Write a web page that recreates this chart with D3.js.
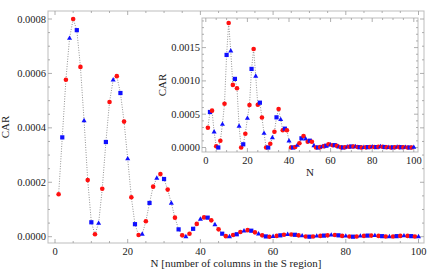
<!DOCTYPE html>
<html>
<head>
<meta charset="utf-8">
<script src="https://cdn.jsdelivr.net/npm/d3@7"></script>
<style>
  body { margin: 0; background: #fff; }
  svg text { font-family: "Liberation Serif", "Times New Roman", serif; fill: #222; }
</style>
</head>
<body>
<div id="chart"></div>
<script>
// CAR vs N, main plot and inset

// main plot values, N = 1..100
var mainCar = [
  0.000156, 0.000365, 0.000577, 0.000729, 0.000800, 0.000759, 0.000624, 0.000426, 0.000208, 0.000053,
  0.000009, 0.000049, 0.000176, 0.000348, 0.000495, 0.000576, 0.000590, 0.000528, 0.000423, 0.000286,
  0.000145, 0.000046, 0.000006, 0.000009, 0.000057, 0.000124, 0.000184, 0.000215, 0.000230, 0.000212,
  0.000173, 0.000123, 0.000070, 0.000027, 0.000005, 0.000000, 0.000011, 0.000029, 0.000047, 0.000064,
  0.000071, 0.000070, 0.000060, 0.000044, 0.000027, 0.000011, 0.000002, 0.000000, 0.000006, 0.000009,
  0.000017, 0.000021, 0.000024, 0.000022, 0.000016, 0.000010, 0.000005, 0.000001, 0.000000, 0.000001,
  0.000003, 0.000005, 0.000007, 0.000008, 0.000008, 0.000007, 0.000005, 0.000003, 0.000001, 0.000000,
  0.000001, 0.000002, 0.000003, 0.000004, 0.000005, 0.000006, 0.000006, 0.000005, 0.000003, 0.000002,
  0.000001, 0.000000, 0.000001, 0.000002, 0.000003, 0.000004, 0.000004, 0.000004, 0.000003, 0.000002,
  0.000001, 0.000000, 0.000001, 0.000002, 0.000003, 0.000003, 0.000003, 0.000002, 0.000001, 0.000000
];

// inset values, N = 1..100
var insetCar = [
  0.000297, 0.000533, 0.000553, 0.000233, 0.000018, 0.000000, 0.000102, 0.000348, 0.000658, 0.001390,
  0.001870, 0.001450, 0.000940, 0.001030, 0.000890, 0.000320, 0.000000, 0.000048, 0.000207, 0.000438,
  0.000638, 0.001180, 0.001480, 0.001070, 0.000643, 0.000673, 0.000450, 0.000213, 0.000000, 0.000000,
  0.000057, 0.000147, 0.000237, 0.000453, 0.000578, 0.000418, 0.000258, 0.000283, 0.000258, 0.000098,
  0.000000, 0.000000, 0.000008, 0.000033, 0.000063, 0.000138, 0.000173, 0.000128, 0.000087, 0.000102,
  0.000087, 0.000027, 0.000000, 0.000000, 0.000005, 0.000012, 0.000020, 0.000027, 0.000048, 0.000038,
  0.000033, 0.000035, 0.000025, 0.000008, 0.000002, 0.000000, 0.000003, 0.000008, 0.000012, 0.000015,
  0.000014, 0.000012, 0.000008, 0.000004, 0.000001, 0.000000, 0.000002, 0.000005, 0.000008, 0.000009,
  0.000008, 0.000006, 0.000010, 0.000012, 0.000011, 0.000007, 0.000003, 0.000001, 0.000000, 0.000002,
  0.000004, 0.000005, 0.000005, 0.000004, 0.000003, 0.000002, 0.000001, 0.000000, 0.000001, 0.000002
];

var xTicks = [0, 20, 40, 60, 80, 100];
var mainYTicks = [0, 0.0002, 0.0004, 0.0006, 0.0008];
var insetYTicks = [0, 0.0005, 0.0010, 0.0015];

var xTitle = "N [number of columns in the S region]";
var insetXTitle = "N";
var yTitle = "CAR";

const width = 436;
const height = 274;

var svg = d3.select("#chart")
    .append("svg")
    .attr("width", width)
    .attr("height", height)

// red for odd N, blue squares / triangles for even N
function markerFor(n) {
    if (n % 2 === 1) return "circle";
    return (n % 4 === 2) ? "square" : "triangle";
}

function drawPanel(g, values, box, opts) {
    // box: frame edges, opts: scale ranges
    var x = d3.scaleLinear().domain([0, 100]).range(opts.xRange);
    var y = d3.scaleLinear().domain(opts.yDomain).range(opts.yRange);

    var pts = values.map(function(v, i) { return {n: i + 1, v: v}; });

    // frame
    g.append("rect")
        .attr("x", box.left).attr("y", box.top)
        .attr("width", box.right - box.left).attr("height", box.bottom - box.top)
        .attr("fill", opts.fill || "none")
        .attr("stroke", "#bdbdbd").attr("stroke-width", 1);

    // minor and major ticks on all four sides, pointing in
    var xMinor = d3.range(0, 100.1, 5);
    var yMinor = d3.range(opts.yDomain[0], opts.yMinorMax, opts.yMinorStep);
    var tk = g.append("g").attr("stroke", "#9a9a9a").attr("stroke-width", 0.8);
    xMinor.forEach(function(t) {
        var len = (t % 20 === 0) ? 4 : 2;
        tk.append("line").attr("x1", x(t)).attr("x2", x(t)).attr("y1", box.bottom).attr("y2", box.bottom - len);
        tk.append("line").attr("x1", x(t)).attr("x2", x(t)).attr("y1", box.top).attr("y2", box.top + len);
    });
    yMinor.forEach(function(t) {
        var major = opts.yTicks.some(function(m) { return Math.abs(m - t) < 1e-9; });
        var len = major ? 4 : 2;
        tk.append("line").attr("y1", y(t)).attr("y2", y(t)).attr("x1", box.left).attr("x2", box.left + len);
        tk.append("line").attr("y1", y(t)).attr("y2", y(t)).attr("x1", box.right).attr("x2", box.right - len);
    });

    // tick labels
    g.selectAll(".xl").data(xTicks).enter().append("text")
        .attr("x", function(d) { return x(d); })
        .attr("y", box.bottom + 12)
        .attr("text-anchor", "middle")
        .attr("font-size", "10.5px")
        .text(function(d) { return d; });

    g.selectAll(".yl").data(opts.yTicks).enter().append("text")
        .attr("x", box.left - 2)
        .attr("y", function(d) { return y(d) + 3.5; })
        .attr("text-anchor", "end")
        .attr("font-size", "10.5px")
        .text(function(d) { return d3.format(".4f")(d); });

    // dotted joining line
    var line = d3.line()
        .x(function(d) { return x(d.n); })
        .y(function(d) { return y(d.v); });
    g.append("path")
        .datum(pts)
        .attr("d", line)
        .attr("fill", "none")
        .attr("stroke", "#7a7a7a")
        .attr("stroke-width", 0.9)
        .attr("stroke-dasharray", "0.9 1.6");

    // markers
    var mk = g.append("g");
    pts.forEach(function(d) {
        var cx = x(d.n), cy = y(d.v), m = markerFor(d.n);
        if (m === "circle") {
            mk.append("circle").attr("cx", cx).attr("cy", cy).attr("r", 2.3).attr("fill", "#ff1010");
        } else if (m === "square") {
            mk.append("rect").attr("x", cx - 2.1).attr("y", cy - 2.1).attr("width", 4.2).attr("height", 4.2).attr("fill", "#1010ff");
        } else {
            mk.append("path")
                .attr("d", d3.symbol().type(d3.symbolTriangle).size(11)())
                .attr("transform", "translate(" + cx + "," + cy + ")")
                .attr("fill", "#1010ff");
        }
    });

    return {x: x, y: y};
}

// main plot
var mainG = svg.append("g");
drawPanel(mainG, mainCar,
    {left: 48, right: 424, top: 11, bottom: 243},
    {xRange: [55, 418.5], yDomain: [0, 0.0008], yRange: [236.7, 19],
     yTicks: mainYTicks, yMinorStep: 0.00005, yMinorMax: 0.00083});

mainG.append("text")
    .attr("x", 236).attr("y", 267)
    .attr("text-anchor", "middle")
    .attr("font-size", "11px")
    .text(xTitle);

mainG.append("text")
    .attr("transform", "translate(9,127) rotate(-90)")
    .attr("text-anchor", "middle")
    .attr("font-size", "11px")
    .text(yTitle);

// inset
var insetG = svg.append("g");
drawPanel(insetG, insetCar,
    {left: 202, right: 418, top: 18, bottom: 152},
    {xRange: [205.8, 413.8], yDomain: [0, 0.0015], yRange: [147.5, 47.6],
     yTicks: insetYTicks, yMinorStep: 0.0001, yMinorMax: 0.00196, fill: "#fff"});

insetG.append("text")
    .attr("x", 310).attr("y", 176)
    .attr("text-anchor", "middle")
    .attr("font-size", "11px")
    .text(insetXTitle);

insetG.append("text")
    .attr("transform", "translate(166,85) rotate(-90)")
    .attr("text-anchor", "middle")
    .attr("font-size", "11px")
    .text(yTitle);
</script>
</body>
</html>
